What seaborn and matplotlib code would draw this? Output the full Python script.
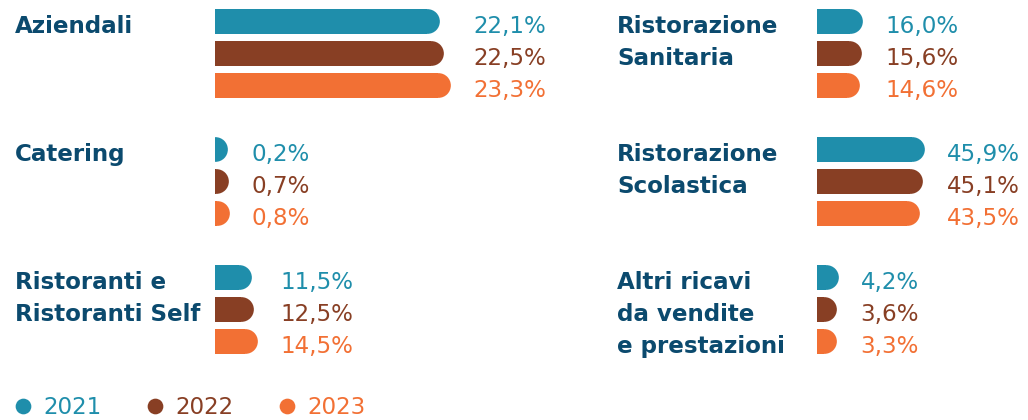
import matplotlib
matplotlib.use("Agg")
import matplotlib.pyplot as plt
import matplotlib.transforms as mtransforms
from matplotlib.lines import Line2D
import seaborn as sns

# Dati: ripartizione dei ricavi per segmento (%)
anni = ["2021", "2022", "2023"]
colori = ["#1f8eab", "#883f24", "#f27034"]
blu_titoli = "#0b4a6e"

aziendali = [22.1, 22.5, 23.3]
sanitaria = [16.0, 15.6, 14.6]
catering = [0.2, 0.7, 0.8]
scolastica = [45.9, 45.1, 43.5]
ristoranti = [11.5, 12.5, 14.5]
altri = [4.2, 3.6, 3.3]

etichette = [
    ["Aziendali"],
    ["Ristorazione", "Sanitaria"],
    ["Catering"],
    ["Ristorazione", "Scolastica"],
    ["Ristoranti e", "Ristoranti Self"],
    ["Altri ricavi", "da vendite", "e prestazioni"],
]
valori = [aziendali, sanitaria, catering, scolastica, ristoranti, altri]

# Layout in pixel (dpi 72 -> 1 pt = 1 px)
DPI = 72
W, H = 1028, 420
fig = plt.figure(figsize=(W / DPI, H / DPI), dpi=DPI)

col_x = [215, 817]        # inizio barre
lab_x = [15, 617]         # inizio etichette
riga_y = [21.3, 149.3, 277.3]  # centro della prima barra di ogni riga
PASSO = 32
CAP = 24.7                # altezza barra / diametro cappuccio

# nel grafico originale "Aziendali" ha una scala propria
scala = [9.58, 2.07, 2.07, 2.07, 2.07, 2.07]   # px per punto percentuale
AX_W = 300


def formatta(v):
    return f"{v:.1f}".replace(".", ",") + "%"


for k, (righe, vals) in enumerate(zip(etichette, valori)):
    col, riga = k % 2, k // 2
    top = riga_y[riga] - PASSO / 2
    h = 3 * PASSO
    ax = fig.add_axes([col_x[col] / W, 1 - (top + h) / H, AX_W / W, h / H])

    sns.barplot(x=vals, y=anni, hue=anni, palette=colori, orient="h",
                width=CAP / PASSO, saturation=1, linewidth=0, legend=False, ax=ax)

    for i, (v, c) in enumerate(zip(vals, colori)):
        # estremità arrotondata (il cerchio è tagliato al bordo sinistro dell'asse)
        ax.plot(v, i, marker="o", markersize=CAP, markeredgewidth=0, color=c,
                clip_on=True)
        ax.annotate(formatta(v), xy=(max(vals), i), xytext=(35, -12),
                    textcoords="offset points", color=c, fontsize=23,
                    va="baseline", ha="left", annotation_clip=False)

    trans = mtransforms.blended_transform_factory(fig.transFigure, ax.transData)
    for j, testo in enumerate(righe):
        ax.annotate(testo, xy=(lab_x[col] / W, j), xycoords=trans,
                    xytext=(0, -12), textcoords="offset points",
                    color=blu_titoli, fontsize=23, fontweight="bold",
                    va="baseline", ha="left", annotation_clip=False)

    ax.set_xlim(0, AX_W / scala[k])
    ax.set_ylim(2.5, -0.5)
    ax.axis("off")

# Legenda
handles = [Line2D([], [], marker="o", linestyle="none", markersize=15.7,
                  color=c, markeredgewidth=0) for c in colori]
leg = fig.legend(handles, anni, loc="lower left", bbox_to_anchor=(8 / W, 0.5 / H),
                 ncol=3, frameon=False, fontsize=23, handlelength=1.3,
                 handletextpad=0.22, columnspacing=1.7, borderpad=0,
                 borderaxespad=0)
for t, c in zip(leg.get_texts(), colori):
    t.set_color(c)

fig.savefig("out.png", dpi=DPI)
